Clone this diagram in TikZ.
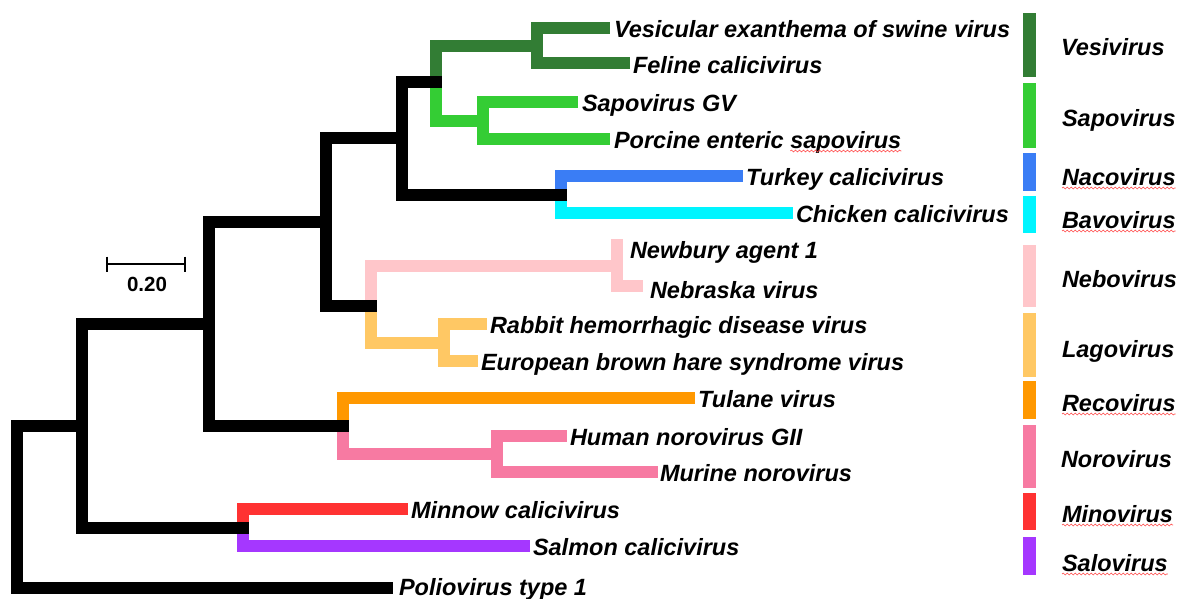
\documentclass[tikz,border=0pt]{standalone}
\usepackage{fontspec}
\setmainfont{Liberation Sans}
\usetikzlibrary{decorations.pathmorphing}
\definecolor{cVes}{RGB}{50,125,52}
\definecolor{cSap}{RGB}{52,205,52}
\definecolor{cNac}{RGB}{58,125,245}
\definecolor{cBav}{RGB}{0,245,255}
\definecolor{cNeb}{RGB}{255,198,202}
\definecolor{cLag}{RGB}{255,200,100}
\definecolor{cRec}{RGB}{255,152,0}
\definecolor{cNor}{RGB}{247,122,162}
\definecolor{cMin}{RGB}{255,50,50}
\definecolor{cSal}{RGB}{165,55,255}
\begin{document}
\begin{tikzpicture}[x=1pt,y=-1pt,
  br/.style={line width=12pt,line cap=butt,line join=miter},
  lbl/.style={anchor=base west,inner sep=0pt,outer sep=0pt,font=\fontsize{23.5}{28}\selectfont\bfseries\itshape},
  wavy/.style={draw=red!70,line width=0.6pt,decorate,decoration={snake,segment length=4pt,amplitude=0.9pt}},
  sclbl/.style={anchor=base,inner sep=0pt,font=\fontsize{20.5}{24}\selectfont\bfseries}
]
\useasboundingbox[fill=white] (0,0) rectangle (1185,598);

% tips
\coordinate (ves) at (610,28);
\coordinate (fel) at (630,63);
\coordinate (sap) at (578,102);
\coordinate (por) at (610,139);
\coordinate (tur) at (743,176);
\coordinate (chi) at (793,213);
\coordinate (new) at (623,245);
\coordinate (neb) at (643,286);
\coordinate (rab) at (487,324);
\coordinate (eur) at (478,361);
\coordinate (tul) at (695,398);
\coordinate (hum) at (567,436);
\coordinate (mur) at (658,472);
\coordinate (min) at (408,509);
\coordinate (sal) at (530,546);
\coordinate (pol) at (393,588);

% internal nodes
\coordinate (nVes) at (537,45.5);
\coordinate (nSap) at (483,120.5);
\coordinate (nVS) at (436,82);
\coordinate (nNB) at (561,194.5);
\coordinate (nA) at (402,138);
\coordinate (nNeb) at (617,266);
\coordinate (nLag) at (444,342.5);
\coordinate (nNL) at (371,306);
\coordinate (nB) at (326,222);
\coordinate (nNor) at (497,454);
\coordinate (nRN) at (343,426);
\coordinate (nC) at (209,324);
\coordinate (nMS) at (243,527.5);
\coordinate (nD) at (82,426);
\coordinate (root) at (17,507);

% coloured clades
\draw[br,cVes] (nVes) |- (ves);
\draw[br,cVes] (nVes) |- (fel);
\draw[br,cVes] (nVS) |- (nVes);
\draw[br,cSap] (nVS) |- (nSap);
\draw[br,cSap] (nSap) |- (sap);
\draw[br,cSap] (nSap) |- (por);
\draw[br,cNac] (nNB) |- (tur);
\draw[br,cBav] (nNB) |- (chi);
\draw[br,cNeb] (nNL) |- (nNeb);
\draw[br,cNeb] (nNeb) |- (new);
\draw[br,cNeb] (nNeb) |- (neb);
\draw[br,cLag] (nNL) |- (nLag);
\draw[br,cLag] (nLag) |- (rab);
\draw[br,cLag] (nLag) |- (eur);
\draw[br,cRec] (nRN) |- (tul);
\draw[br,cNor] (nRN) |- (nNor);
\draw[br,cNor] (nNor) |- (hum);
\draw[br,cNor] (nNor) |- (mur);
\draw[br,cMin] (nMS) |- (min);
\draw[br,cSal] (nMS) |- (sal);

% black backbone
\draw[br,black] (nA) |- ([xshift=6pt]nVS);
\draw[br,black] (nA) |- ([xshift=6pt]nNB);
\draw[br,black] (nB) |- ([xshift=6pt]nA);
\draw[br,black] (nB) |- ([xshift=6pt]nNL);
\draw[br,black] (nC) |- ([xshift=6pt]nB);
\draw[br,black] (nC) |- ([xshift=6pt]nRN);
\draw[br,black] (nD) |- ([xshift=6pt]nC);
\draw[br,black] (nD) |- ([xshift=6pt]nMS);
\draw[br,black] (root) |- ([xshift=6pt]nD);
\draw[br,black] (root) |- (pol);

% tip labels
\node[lbl,xshift=4pt,yshift=-9pt] (Lves) at (ves) {Vesicular exanthema of swine virus};
\node[lbl,xshift=3pt,yshift=-10pt] (Lfel) at (fel) {Feline calicivirus};
\node[lbl,xshift=4pt,yshift=-9pt] (Lsap) at (sap) {Sapovirus GV};
\node[lbl,xshift=4pt,yshift=-9pt] (Lpor) at (por) {Porcine enteric};
\node[lbl,xshift=6.5pt] (Lpor2) at (Lpor.base east) {sapovirus};
\node[lbl,xshift=3pt,yshift=-9pt] (Ltur) at (tur) {Turkey calicivirus};
\node[lbl,xshift=3pt,yshift=-9pt] (Lchi) at (chi) {Chicken calicivirus};
\node[lbl,xshift=7pt,yshift=-13pt] (Lnew) at (new) {Newbury agent 1};
\node[lbl,xshift=7pt,yshift=-12pt] (Lneb) at (neb) {Nebraska virus};
\node[lbl,xshift=3pt,yshift=-9pt] (Lrab) at (rab) {Rabbit hemorrhagic disease virus};
\node[lbl,xshift=3pt,yshift=-9pt] (Leur) at (eur) {European brown hare syndrome virus};
\node[lbl,xshift=3pt,yshift=-9pt] (Ltul) at (tul) {Tulane virus};
\node[lbl,xshift=3pt,yshift=-9pt] (Lhum) at (hum) {Human norovirus GII};
\node[lbl,xshift=2pt,yshift=-9pt] (Lmur) at (mur) {Murine norovirus};
\node[lbl,xshift=3pt,yshift=-9pt] (Lmin) at (min) {Minnow calicivirus};
\node[lbl,xshift=3pt,yshift=-9pt] (Lsal) at (sal) {Salmon calicivirus};
\node[lbl,xshift=6pt,yshift=-7pt] (Lpol) at (pol) {Poliovirus type 1};
\draw[wavy] ([yshift=-3pt]Lpor2.base west) -- ([yshift=-3pt]Lpor2.base east);

% scale bar
\coordinate (sb1) at (107,264);
\coordinate (sb2) at (185,264);
\draw[line width=2pt] (sb1) -- (sb2);
\draw[line width=2pt] ([yshift=7.5pt]sb1) -- ([yshift=-7.5pt]sb1);
\draw[line width=2pt] ([yshift=7.5pt]sb2) -- ([yshift=-7.5pt]sb2);
\node[sclbl] (sbl) at (147,291) {0.20};

% legend bars
\fill[cVes] (1023,13) rectangle (1036,77);
\fill[cSap] (1023,83) rectangle (1036,148);
\fill[cNac] (1023,153) rectangle (1036,191);
\fill[cBav] (1023,196) rectangle (1036,233);
\fill[cNeb] (1023,245) rectangle (1036,307);
\fill[cLag] (1023,313) rectangle (1036,377);
\fill[cRec] (1023,381) rectangle (1036,419);
\fill[cNor] (1023,425) rectangle (1036,488);
\fill[cMin] (1023,493) rectangle (1036,530);
\fill[cSal] (1023,537) rectangle (1036,575);

% genus labels
\node[lbl] (Gves) at (1061,55) {Vesivirus};
\node[lbl] (Gsap) at (1062,126) {Sapovirus};
\node[lbl] (Gnac) at (1062,185) {Nacovirus};
\node[lbl] (Gbav) at (1062,228) {Bavovirus};
\node[lbl] (Gneb) at (1062,287) {Nebovirus};
\node[lbl] (Glag) at (1062,357) {Lagovirus};
\node[lbl] (Grec) at (1062,411) {Recovirus};
\node[lbl] (Gnor) at (1061,467) {Norovirus};
\node[lbl] (Gmin) at (1062,522) {Minovirus};
\node[lbl] (Gsal) at (1062,571) {Salovirus};
\foreach \g in {Gnac,Gbav,Grec,Gmin,Gsal}
  \draw[wavy] ([yshift=-3pt]\g.base west) -- ([yshift=-3pt]\g.base east);
\end{tikzpicture}
\end{document}
